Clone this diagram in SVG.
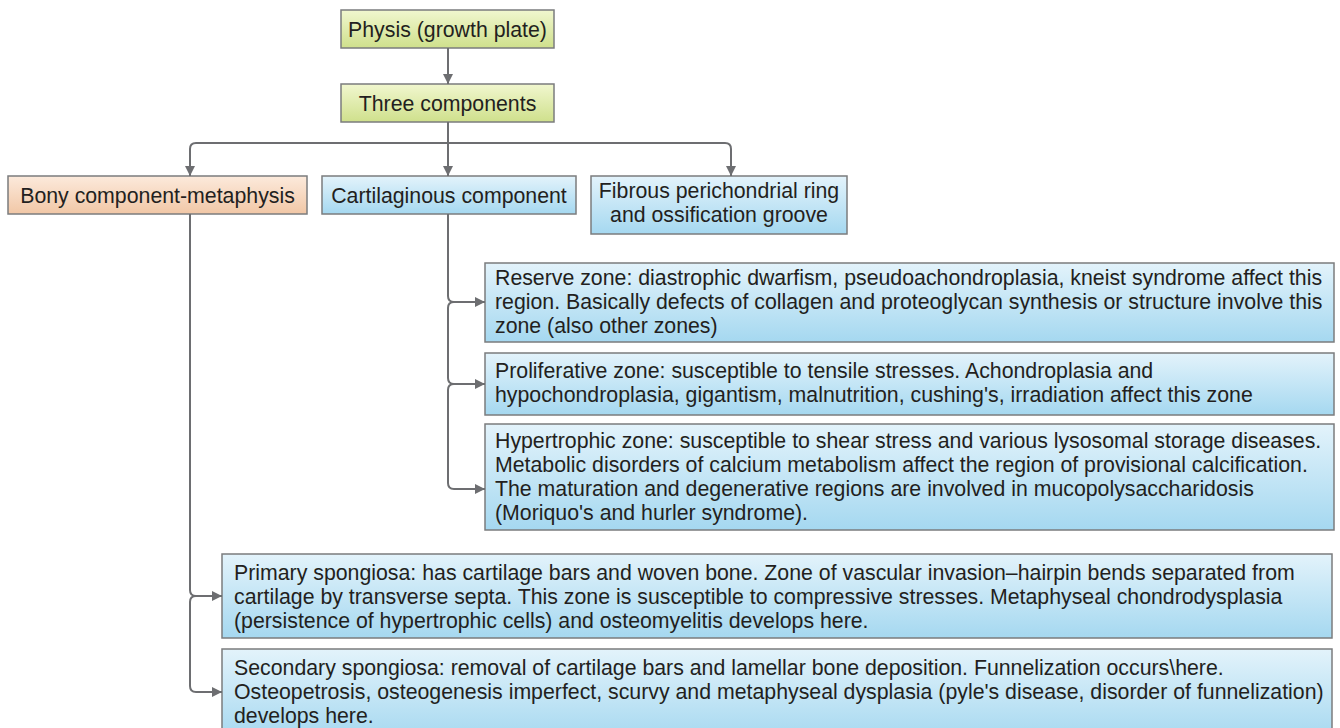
<svg xmlns="http://www.w3.org/2000/svg" width="1340" height="728" viewBox="0 0 1340 728">
<defs>
<linearGradient id="gGreen" x1="0" y1="0" x2="0" y2="1"><stop offset="0" stop-color="#f1f7cf"/><stop offset="1" stop-color="#cfe08c"/></linearGradient>
<linearGradient id="gPeach" x1="0" y1="0" x2="0" y2="1"><stop offset="0" stop-color="#fceadc"/><stop offset="1" stop-color="#f1c7a6"/></linearGradient>
<linearGradient id="gBlue" x1="0" y1="0" x2="0" y2="1"><stop offset="0" stop-color="#e3f3fb"/><stop offset="1" stop-color="#a5d8f0"/></linearGradient>
<marker id="arr" viewBox="0 0 10 10" refX="10" refY="5" markerWidth="10" markerHeight="10" markerUnits="userSpaceOnUse" orient="auto"><path d="M0,0 L10,5 L0,10 z" fill="#6d6e71"/></marker>
</defs>
<style>
rect{stroke:#7b7c7e;stroke-width:1.5}
.g{fill:url(#gGreen)} .p{fill:url(#gPeach)} .b{fill:url(#gBlue)}
text{font-family:"Liberation Sans",Arial,sans-serif;font-size:21.3px;fill:#231f20}
.c{text-anchor:middle}
.con path{fill:none;stroke:#6d6e71;stroke-width:2}
</style>
<g id="n-physis"><rect class="g" x="341" y="10" width="213" height="38"/><text class="c" x="447.5" y="36.5">Physis (growth plate)</text></g>
<g id="n-three"><rect class="g" x="341" y="84" width="213" height="38"/><text class="c" x="447.5" y="110.5">Three components</text></g>
<g id="n-bony"><rect class="p" x="8" y="176" width="299" height="38"/><text class="c" x="157.5" y="202.5">Bony component-metaphysis</text></g>
<g id="n-cart"><rect class="b" x="322" y="176" width="254" height="38"/><text class="c" x="449" y="202.5">Cartilaginous component</text></g>
<g id="n-fib"><rect class="b" x="591" y="176" width="256" height="58"/><text class="c" x="719" y="198">Fibrous perichondrial ring</text><text class="c" x="719" y="222">and ossification groove</text></g>
<g id="n-reserve"><rect class="b" x="485" y="263" width="849" height="79"/>
<text x="495" y="285">Reserve zone: diastrophic dwarfism, pseudoachondroplasia, kneist syndrome affect this</text>
<text x="495" y="309">region. Basically defects of collagen and proteoglycan synthesis or structure involve this</text>
<text x="495" y="333">zone (also other zones)</text></g>
<g id="n-prolif"><rect class="b" x="485" y="353" width="849" height="62"/>
<text x="495" y="378">Proliferative zone: susceptible to tensile stresses. Achondroplasia and</text>
<text x="495" y="402">hypochondroplasia, gigantism, malnutrition, cushing's, irradiation affect this zone</text></g>
<g id="n-hyper"><rect class="b" x="485" y="424" width="849" height="106"/>
<text x="495" y="448">Hypertrophic zone: susceptible to shear stress and various lysosomal storage diseases.</text>
<text x="495" y="472">Metabolic disorders of calcium metabolism affect the region of provisional calcification.</text>
<text x="495" y="496">The maturation and degenerative regions are involved in mucopolysaccharidosis</text>
<text x="495" y="520">(Moriquo's and hurler syndrome).</text></g>
<g id="n-primary"><rect class="b" x="222" y="554" width="1110" height="84"/>
<text x="234" y="580">Primary spongiosa: has cartilage bars and woven bone. Zone of vascular invasion–hairpin bends separated from</text>
<text x="234" y="604">cartilage by transverse septa. This zone is susceptible to compressive stresses. Metaphyseal chondrodysplasia</text>
<text x="234" y="628">(persistence of hypertrophic cells) and osteomyelitis develops here.</text></g>
<g id="n-secondary"><rect class="b" x="222" y="649" width="1110" height="92"/>
<text x="234" y="675">Secondary spongiosa: removal of cartilage bars and lamellar bone deposition. Funnelization occurs\here.</text>
<text x="234" y="699">Osteopetrosis, osteogenesis imperfect, scurvy and metaphyseal dysplasia (pyle's disease, disorder of funnelization)</text>
<text x="234" y="723">develops here.</text></g>
<g class="con" id="connectors">
<path d="M448,48 V84" marker-end="url(#arr)"/>
<path d="M448,122 V143"/>
<path d="M190,176 V149 Q190,143 196,143 H725 Q731,143 731,149 V176" marker-end="url(#arr)"/>
<path d="M190,149 V176" marker-end="url(#arr)"/>
<path d="M448,143 V176" marker-end="url(#arr)"/>
<path d="M448,214 V296 Q448,302 454,302 H485" marker-end="url(#arr)"/>
<path d="M454,302 Q448,302 448,308 V378 Q448,384 454,384 H485" marker-end="url(#arr)"/>
<path d="M454,384 Q448,384 448,390 V483 Q448,489 454,489 H485" marker-end="url(#arr)"/>
<path d="M190,214 V590 Q190,596 196,596 H222" marker-end="url(#arr)"/>
<path d="M196,596 Q190,596 190,602 V686 Q190,692 196,692 H222" marker-end="url(#arr)"/>
</g>
</svg>
